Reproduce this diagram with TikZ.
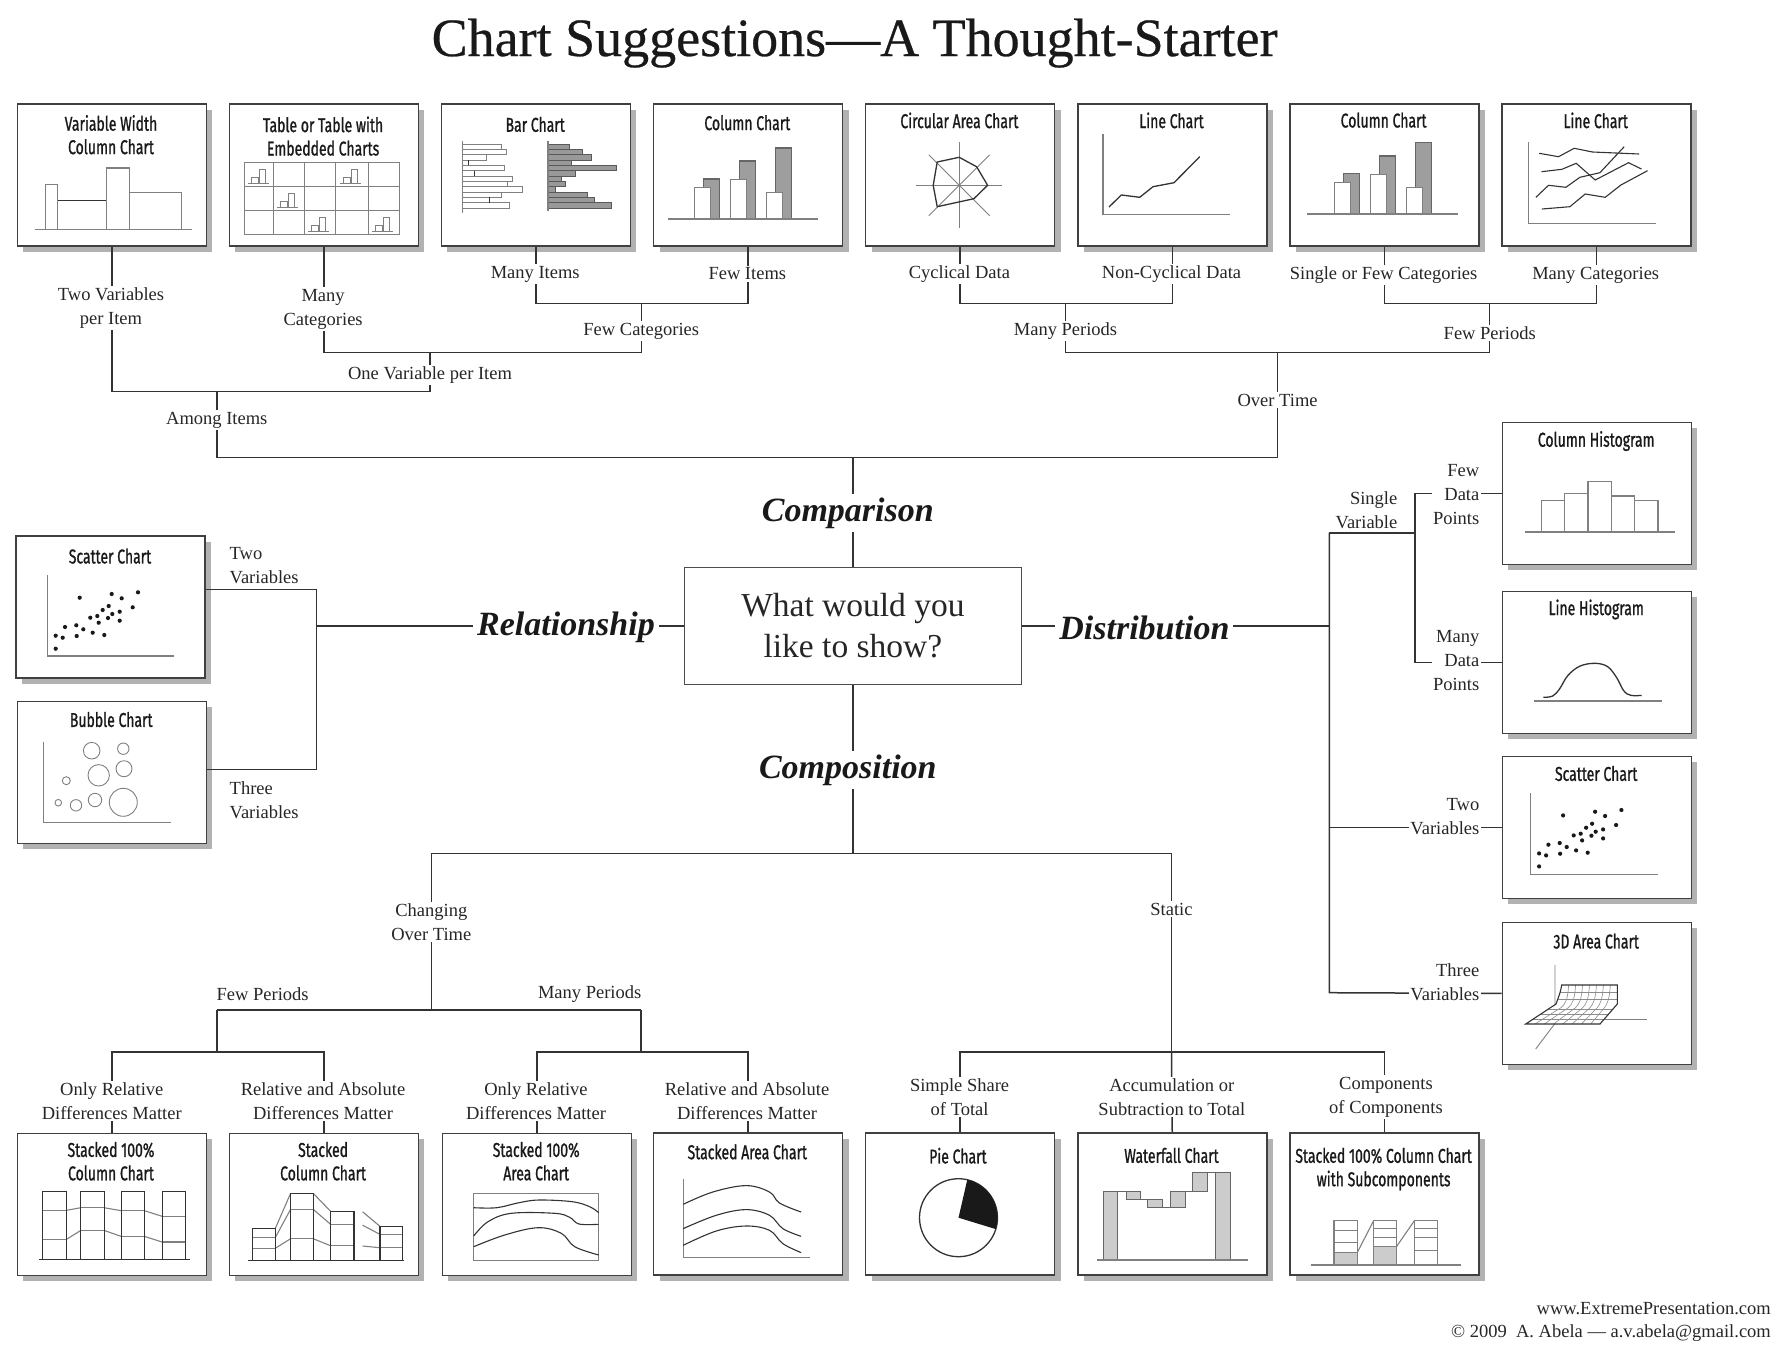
\documentclass[tikz,border=0pt]{standalone}
\usepackage{fontspec}
\setmainfont{Liberation Serif}
\newfontfamily\boxfont[FakeStretch=0.7,FakeBold=1.0]{Fira Sans}
\newfontfamily\titlefont[FakeBold=0.5]{Liberation Serif}
\usetikzlibrary{shadows}
\newcommand\minichart[2]{%
  \draw[minig,line width=0.8pt] ({#1+4},{#2-3}) -- ({#1+25},{#2-3});
  \draw[minig,line width=0.8pt] ({#1+7.4},{#2-3}) rectangle ({#1+14},{#2-9.4});
  \draw[minig,line width=0.8pt] ({#1+15},{#2-3}) rectangle ({#1+21.4},{#2-17.4});}
\newcommand\myscatterdots{%
  \foreach \p in {(64.4,62.7),(96.4,59),(106.4,63.3),(122.7,57.3),(117.4,72.3),(93.4,71),(87.4,75),(82,81),(75,82.7),(97,79),(104.4,76.7),(92.7,83),(83.4,87.7),(104.4,85.7),(61,90.3),(49.7,92),(68,94.3),(77.4,97.7),(89,100),(61.4,101),(40.4,100.7),(47.4,102.7),(40.4,113.7)}
    \fill[black!90] \p circle[radius=2.1pt];}
\tikzset{
  chartbox/.style={draw=black!75, line width=1.5pt, fill=white, minimum width=189pt,
    minimum height=142pt, anchor=north west, inner sep=0pt,
    drop shadow={shadow xshift=6pt, shadow yshift=-6pt, fill=black!30, opacity=1}},
  btitle/.style={font=\boxfont\fontsize{20}{23.4}\selectfont, align=center, inner sep=0pt, anchor=north, text=black!90},
  lab/.style={font=\fontsize{18.5}{24}\selectfont, align=center, inner sep=1.5pt, text=black!85},
  labw/.style={lab, fill=white},
  big/.style={font=\fontsize{34}{38}\selectfont\bfseries\itshape, fill=white, inner sep=4pt, text=black!90},
  conn/.style={draw=black!80, line width=1.5pt},
  minig/.style={draw=black!50, line width=1.1pt},
  minid/.style={draw=black!80, line width=1.3pt},
  grayfill/.style={fill=black!38, draw=black!60, line width=1.1pt},
}
\begin{document}
\begin{tikzpicture}[x=1pt,y=-1pt]
\useasboundingbox (0,0) rectangle (1789,1350);

\node[font=\titlefont\fontsize{54}{60}\selectfont, anchor=base, text=black!90] (title) at (854.6,56) {Chart Suggestions—A Thought-Starter};

% ---------- boxes ----------
\node[chartbox] (b1) at (16.5,103.3) {};
\node[chartbox] (b2) at (228.6,103.3) {};
\node[chartbox] (b3) at (440.7,103.3) {};
\node[chartbox] (b4) at (652.8,103.3) {};
\node[chartbox] (b5) at (864.9,103.3) {};
\node[chartbox] (b6) at (1077,103.3) {};
\node[chartbox] (b7) at (1289.1,103.3) {};
\node[chartbox] (b8) at (1501.2,103.3) {};
\node[chartbox] (r1) at (1501.7,421.7) {};
\node[chartbox] (r2) at (1501.7,590.7) {};
\node[chartbox] (r3) at (1501.7,755.7) {};
\node[chartbox] (r4) at (1501.7,921.7) {};
\node[chartbox] (s1) at (15.3,535) {};
\node[chartbox] (s2) at (16.7,700.7) {};
\node[chartbox] (bb1) at (16.5,1132.7) {};
\node[chartbox] (bb2) at (228.6,1132.7) {};
\node[chartbox] (bb3) at (441.7,1132.7) {};
\node[chartbox] (bb4) at (652.8,1132) {};
\node[chartbox] (bb5) at (864.9,1132) {};
\node[chartbox] (bb6) at (1077,1132) {};
\node[chartbox] (bb7) at (1289.1,1132) {};

\node[draw=black!70, line width=1.3pt, minimum width=336.6pt, minimum height=117.5pt, align=center,
  font=\fontsize{33.5}{41}\selectfont, text=black!85] (q) at (852.9,625.9) {What would you\\like to show?};

% ---------- b1 variable width ----------
\begin{scope}[shift={(b1.north west)}]
\node[btitle] (b1t) at (94.5,11.6) {Variable Width\\Column Chart};
\draw[minig] (28.7,126) rectangle (41,81);
\draw[minig] (41,126) rectangle (90.4,97.4);
\draw[minid,line width=1.1pt] (41,97.4) -- (90.4,97.4);
\draw[minig] (90.4,126) rectangle (113,64.7);
\draw[minig] (113,126) rectangle (164.7,89.4);
\draw[minig] (18.7,126) -- (175.4,126);
\end{scope}

% ---------- b2 table ----------
\begin{scope}[shift={(b2.north west)}]
\node[btitle] (b2t) at (94.5,13) {Table or Table with\\Embedded Charts};
\draw[minig] (15.6,59.4) rectangle (170.6,131);
\foreach \x in {44.6,75.6,107.3,139.6} \draw[minig] (\x,59.4) -- (\x,131);
\foreach \y in {83.4,107.4} \draw[minig] (15.6,\y) -- (170.6,\y);
\minichart{15.6}{83.4}
\minichart{107.3}{83.4}
\minichart{44.6}{107.4}
\minichart{75.6}{131}
\minichart{139.6}{131}
\end{scope}

% ---------- b3 bar chart ----------
\begin{scope}[shift={(b3.north west)}]
\node[btitle] (b3t) at (94.5,13.3) {Bar Chart};
\foreach \k/\e in {0/60.6,1/65.3,2/46,3/27.6,4/63.6,5/33.6,6/71.6,7/66.3,8/81.6,9/60.6,10/49,11/69}
  \draw[minig,line width=0.9pt] (21.6,{40.7+5.33*\k}) rectangle (\e,{46.03+5.33*\k});
\foreach \k/\e in {3/27.6,5/33.6,10/49}
  \draw[minid,line width=1pt] (\e,{40.7+5.33*\k}) -- (\e,{46.03+5.33*\k});
\draw[minig] (21.6,37.4) -- (21.6,109.4);
\foreach \k/\e in {0/129,1/141.3,2/151,3/130.6,4/175.6,5/134.3,6/120.6,7/124.3,8/114.6,9/146.3,10/153.6,11/171}
  \draw[fill=black!40,draw=black!65,line width=0.9pt] (107.3,{40.7+5.33*\k}) rectangle (\e,{46.03+5.33*\k});
\draw[minig] (107.3,37.4) -- (107.3,107.4);
\end{scope}

% ---------- b4 column chart ----------
\begin{scope}[shift={(b4.north west)}]
\node[btitle] (b4t) at (94.5,11.6) {Column Chart};
\draw[grayfill] (50.6,115.7) rectangle (66.6,75.7);
\draw[minig,fill=white] (41.6,115.7) rectangle (57.3,84.4);
\draw[grayfill] (86.3,115.7) rectangle (102.3,57.7);
\draw[minig,fill=white] (78,115.7) rectangle (93.6,76.4);
\draw[grayfill] (122.6,115.7) rectangle (138.6,44.7);
\draw[minig,fill=white] (114,115.7) rectangle (129.6,89);
\draw[minig] (15,115.7) -- (165,115.7);
\end{scope}

% ---------- b5 circular area ----------
\begin{scope}[shift={(b5.north west)}]
\node[btitle] (b5t) at (94.5,9) {Circular Area Chart};
\draw[minig,line width=0.9pt] (94.3,39) -- (94.3,125);
\draw[minig,line width=0.9pt] (51.3,82) -- (137.3,82);
\draw[minig,line width=0.9pt] (63.9,51.6) -- (124.7,112.4);
\draw[minig,line width=0.9pt] (63.9,112.4) -- (124.7,51.6);
\draw[minid] (94.3,54) -- (111.7,63.4) -- (122.7,82) -- (109,95.4) -- (72.3,103.4) -- (68.3,82) -- (72.3,58.7) -- cycle;
\end{scope}

% ---------- b6 line chart ----------
\begin{scope}[shift={(b6.north west)}]
\node[btitle] (b6t) at (94.5,9) {Line Chart};
\draw[minig] (26,31) -- (26,111) -- (152.7,111);
\draw[minid] (32,103.7) -- (44.3,91.7) -- (62.7,94) -- (76,83.4) -- (97,79.4) -- (122.7,53.4);
\end{scope}

% ---------- b7 column chart ----------
\begin{scope}[shift={(b7.north west)}]
\node[btitle] (b7t) at (94.5,9) {Column Chart};
\draw[grayfill] (54.3,110.7) rectangle (70.7,70.4);
\draw[minig,fill=white] (45.3,110.7) rectangle (61.3,79);
\draw[grayfill] (90,110.7) rectangle (106.7,52.7);
\draw[minig,fill=white] (81.7,110.7) rectangle (97.7,71);
\draw[grayfill] (126.7,110.7) rectangle (142.7,39.4);
\draw[minig,fill=white] (117.7,110.7) rectangle (133.7,84);
\draw[minig] (18.3,110.7) -- (169.3,110.7);
\end{scope}

% ---------- b8 line chart ----------
\begin{scope}[shift={(b8.north west)}]
\node[btitle] (b8t) at (94.5,9) {Line Chart};
\draw[minig] (27.3,39) -- (27.3,120) -- (154.7,120);
\draw[minid,line width=1.1pt] (38,50) -- (57.3,53.4) -- (73,45) -- (91.3,48.7) -- (138,50.7);
\draw[minid,line width=1.1pt] (40.3,68.4) -- (60.7,66) -- (75,60) -- (94,76.7) -- (127.3,59.4) -- (140.3,65.7);
\draw[minid,line width=1.1pt] (34.7,94) -- (47.3,82) -- (64.7,84) -- (78.7,74) -- (98.7,69.4) -- (123,43.4);
\draw[minid,line width=1.1pt] (40.7,105.7) -- (68.7,103.4) -- (84,90.7) -- (104,94) -- (119.7,81.7) -- (146.3,67.4);
\end{scope}

% ---------- r1 column histogram ----------
\begin{scope}[shift={(r1.north west)}]
\node[btitle] (r1t) at (94.5,9.2) {Column Histogram};
\draw[minig] (39.6,110.3) rectangle (63,78.6);
\draw[minig] (63,110.3) rectangle (86.3,71.6);
\draw[minig] (86.3,110.3) rectangle (109.6,59.6);
\draw[minig] (109.6,110.3) rectangle (133,74.3);
\draw[minig] (133,110.3) rectangle (156.3,78.6);
\draw[minig] (23,110.3) -- (173.6,110.3);
\end{scope}

% ---------- r2 line histogram ----------
\begin{scope}[shift={(r2.north west)}]
\node[btitle] (r2t) at (94.5,8.6) {Line Histogram};
\draw[minig] (32.3,110.3) -- (160.3,110.3);
\draw[minid] plot[smooth,tension=0.6] coordinates {(41.6,106.6) (51,105.3) (58,98) (66,85) (78,75.5) (93.3,72.6) (106,76) (115,87) (122,100) (129,104.6) (140,104.7)};
\end{scope}

% ---------- r3 scatter ----------
\begin{scope}[shift={(r3.north west)}]
\node[btitle] (r3t) at (94.5,10) {Scatter Chart};
\draw[minig] (29,37.6) -- (29,118.7) -- (156,118.7);
\begin{scope}[shift={(-3,-3)}]\myscatterdots\end{scope}
\end{scope}

% ---------- r4 3D area ----------
\begin{scope}[shift={(r4.north west)}]
\node[btitle] (r4t) at (94.5,11.6) {3D Area Chart};
\draw[minig,line width=0.9pt] (53.3,43.3) -- (53.3,101.7) -- (34,127.3);
\draw[minig,line width=0.9pt] (53.3,97.7) -- (145,97.7);
\fill[white] (24,102.3) -- (54.3,82.3) .. controls (57,75) and (59,70) .. (60,63.3) -- (115.6,63.3) -- (115.6,82.3) -- (98.3,102.3) -- cycle;
\foreach \t in {0.125,0.25,0.375,0.5,0.625,0.75,0.875}
  \draw[black!45,line width=0.6pt] ({60+55.6*\t},63.3) .. controls ({59+55.6*\t},78) and ({57+55.6*\t},82) .. ({52+58*\t},86) -- ({24+74.3*\t},102.3);
\foreach \s in {0.25,0.5,0.75}
  \draw[black!45,line width=0.6pt] ({54.3-30.3*\s},{82.3+20*\s}) -- ({115.6-17.3*\s},{82.3+20*\s});
\draw[black!45,line width=0.6pt] (56,78) -- (115.6,78);
\draw[black!45,line width=0.6pt] (58.5,71) -- (115.6,71);
\draw[minid,line width=1.1pt] (24,102.3) -- (54.3,82.3) .. controls (57,75) and (59,70) .. (60,63.3) -- (115.6,63.3) -- (115.6,82.3) -- (98.3,102.3) -- cycle;
\end{scope}

% ---------- s1 scatter ----------
\begin{scope}[shift={(s1.north west)}]
\node[btitle] (s1t) at (94.7,13.3) {Scatter Chart};
\draw[minig] (32.4,40) -- (32.4,121) -- (159,121);
\myscatterdots
\end{scope}

% ---------- s2 bubble ----------
\begin{scope}[shift={(s2.north west)}]
\node[btitle] (s2t) at (94.5,11) {Bubble Chart};
\draw[minig] (26.6,41) -- (26.6,122) -- (154,122);
\foreach \c/\r in {{(75,50)}/8.3,{(106.6,48)}/5.7,{(82,74.6)}/10.7,{(107.3,68)}/8,{(49.6,80)}/4,{(41.6,102)}/3.3,{(59.3,104.6)}/5.7,{(78.3,99.3)}/6.7,{(106.6,101.6)}/14}
  \draw[minig,line width=0.9pt] \c circle[radius=\r pt];
\end{scope}

% ---------- bb1 stacked 100% column ----------
\begin{scope}[shift={(bb1.north west)}]
\node[btitle] (bb1t) at (94.5,9) {Stacked 100\%\\Column Chart};
\draw[minig] (50,77.6) -- (64.3,75) (87.6,75) -- (104.7,78) (128,78) -- (145.6,83.6);
\draw[minig] (50,106.6) -- (64.3,97.7) (87.6,97.7) -- (104.7,103.7) (128,103.7) -- (145.6,109.3);
\draw[minig] (26,77.6) -- (50,77.6) (26,106.6) -- (50,106.6);
\draw[minig] (64.3,75) -- (87.6,75) (64.3,97.7) -- (87.6,97.7);
\draw[minig] (104.7,78) -- (128,78) (104.7,103.7) -- (128,103.7);
\draw[minig] (145.6,83.6) -- (169,83.6) (145.6,109.3) -- (169,109.3);
\foreach \a/\b in {26/50,64.3/87.6,104.7/128,145.6/169}
  \draw[minid,line width=1.2pt] (\a,126.7) rectangle (\b,59);
\draw[minid,line width=1.2pt] (22.6,126.7) -- (173.3,126.7);
\end{scope}

% ---------- bb2 stacked column ----------
\begin{scope}[shift={(bb2.north west)}]
\node[btitle] (bb2t) at (94.5,9) {Stacked\\Column Chart};
\draw[minig] (46.6,96) -- (62,60.6) (46.6,105) -- (62,76.6) (46.6,115.6) -- (62,106);
\draw[minig] (84.6,60.6) -- (102,78.6) (84.6,76.6) -- (102,91.6) (84.6,106) -- (102,113);
\draw[minig] (134,79) -- (151.3,93.6) (134,92.5) -- (151.3,101.6) (134,113.3) -- (151.3,115);
\draw[minig] (23.6,105) -- (46.6,105) (23.6,115.6) -- (46.6,115.6);
\draw[minig] (62,76.6) -- (84.6,76.6) (62,106) -- (84.6,106);
\draw[minig] (102,91.6) -- (125.3,91.6) (102,113) -- (125.3,113);
\draw[minig] (151.3,101.6) -- (174,101.6) (151.3,115) -- (174,115);
\draw[minid,line width=1.2pt] (23.6,128) rectangle (46.6,96);
\draw[minid,line width=1.2pt] (62,128) rectangle (84.6,60.6);
\draw[minid,line width=1.2pt] (102,128) rectangle (125.3,78.6);
\draw[minid,line width=1.2pt] (151.3,128) rectangle (174,93.6);
\draw[minid,line width=1.2pt] (19.6,128) -- (175.6,128);
\end{scope}

% ---------- bb3 stacked 100% area ----------
\begin{scope}[shift={(bb3.north west)}]
\node[btitle] (bb3t) at (94.5,9) {Stacked 100\%\\Area Chart};
\draw[minig] (32,60.6) rectangle (157,128);
\draw[minid,line width=1.1pt] plot[smooth,tension=0.6] coordinates {(32,75) (55,75) (77.3,70) (97.3,67.3) (130.6,69) (148,74) (157,80)};
\draw[minid,line width=1.1pt] plot[smooth,tension=0.6] coordinates {(32,103.3) (46.3,89) (69.6,80.6) (113,80.6) (128,84.6) (137.3,91.3) (157,91.6)};
\draw[minid,line width=1.1pt] plot[smooth,tension=0.6] coordinates {(32,114) (63,102.3) (96.3,95) (119.6,100.6) (133,114) (157,122.3)};
\end{scope}

% ---------- bb4 stacked area ----------
\begin{scope}[shift={(bb4.north west)}]
\node[btitle] (bb4t) at (94.5,12) {Stacked Area Chart};
\draw[minig] (30.4,46.6) -- (30.4,125.6) -- (157.4,125.6);
\draw[minid,line width=1.1pt] plot[smooth,tension=0.6] coordinates {(30.4,72.3) (60,60) (93.4,53.6) (116.7,60) (126.7,71) (148.3,80)};
\draw[minid,line width=1.1pt] plot[smooth,tension=0.6] coordinates {(30.4,96.6) (63.4,83.3) (93.4,77.6) (116.7,83.3) (130,96.6) (148.3,104.3)};
\draw[minid,line width=1.1pt] plot[smooth,tension=0.6] coordinates {(30.4,113.3) (63.4,99) (93.4,94) (116.7,98.3) (130,111.6) (148.3,120.6)};
\end{scope}

% ---------- bb5 pie ----------
\begin{scope}[shift={(bb5.north west)}]
\node[btitle] (bb5t) at (93,15.6) {Pie Chart};
\draw[minid] (93.6,85.7) circle[radius=39pt];
\fill[black!90] (93.6,85.7) -- ++(-17:39pt) arc[start angle=-17, end angle=77, radius=39pt] -- cycle;
\end{scope}

% ---------- bb6 waterfall ----------
\begin{scope}[shift={(bb6.north west)}]
\node[btitle] (bb6t) at (94.5,15.6) {Waterfall Chart};
\draw[fill=black!20,draw=black!60,line width=1pt] (26.2,128) rectangle (40.9,59.3);
\draw[fill=black!20,draw=black!60,line width=1pt] (49,59.3) rectangle (63.7,67);
\draw[fill=black!20,draw=black!60,line width=1pt] (70.2,67) rectangle (85.8,75.3);
\draw[fill=black!20,draw=black!60,line width=1pt] (93.1,59.3) rectangle (108.2,75.3);
\draw[fill=black!20,draw=black!60,line width=1pt] (115.5,40) rectangle (130.7,59.3);
\draw[fill=black!20,draw=black!60,line width=1pt] (138,128) rectangle (153.1,40);
\draw[draw=black!60,line width=1pt] (40.9,59.3) -- (49,59.3) (63.7,67) -- (70.2,67) (85.8,75.3) -- (93.1,75.3) (108.2,59.3) -- (115.5,59.3) (130.7,40) -- (138,40);
\draw[minig] (20.4,128) -- (170.7,128);
\end{scope}

% ---------- bb7 stacked with subcomponents ----------
\begin{scope}[shift={(bb7.north west)}]
\node[btitle] (bb7t) at (94.5,15.6) {Stacked 100\% Column Chart\\with Subcomponents};
\fill[black!20] (44.9,133) rectangle (68.1,120.7);
\fill[black!20] (84.5,133) rectangle (107.3,114.7);
\draw[minig] (44.9,133) rectangle (68.1,88.7);
\foreach \y in {98.7,110.7,120.7} \draw[minig] (44.9,\y) -- (68.1,\y);
\draw[minig] (84.5,133) rectangle (107.3,88.7);
\foreach \y in {96.3,105.3,114.7} \draw[minig] (84.5,\y) -- (107.3,\y);
\draw[minig] (125.3,133) rectangle (148.5,88.7);
\foreach \y in {96.3,105.3,118.7} \draw[minig] (125.3,\y) -- (148.5,\y);
\draw[minig] (68.1,120.7) -- (84.5,88.7);
\draw[minig] (107.3,114.7) -- (125.3,88.7);
\draw[minig] (21.6,133) -- (171.4,133);
\end{scope}

% ---------- connectors: comparison ----------
\coordinate (jOVt) at (430,352.6);
\coordinate (jOVb) at (430,391.4);
\coordinate (jFCt) at (641.25,303.5);
\coordinate (jFCb) at (641.25,352.6);
\coordinate (jAIt) at (216.8,391.4);
\coordinate (jAIb) at (216.8,457.5);
\coordinate (jMPt) at (1065.5,303.5);
\coordinate (jMPb) at (1065.5,352.6);
\coordinate (jFPt) at (1489.7,303.5);
\coordinate (jFPb) at (1489.7,352.6);
\coordinate (jOTt) at (1277.6,352.6);
\coordinate (jOTb) at (1277.6,457.5);
\draw[conn] (b1.south) |- (jOVb) -- (jOVt);
\draw[conn] (b2.south) |- (jFCb) -- (jFCt);
\draw[conn] (b3.south) |- (jFCt) -| (b4.south);
\draw[conn] (jAIt) -- (jAIb) -- (jOTb) -- (jOTt);
\draw[conn] (b5.south) |- (jMPt) -| (b6.south);
\draw[conn] (jMPt) -- (jMPb) -- (jFPb) -- (jFPt);
\draw[conn] (b7.south) |- (jFPt) -| (b8.south);
\draw[conn] (q.north) -- (q.north |- jAIb);

% ---------- connectors: relationship ----------
\coordinate (jR1) at (316.7,589.3);
\coordinate (jR2) at (316.7,769.3);
\coordinate (jRm) at (316.7,625.9);
\draw[conn] (s1.east |- jR1) -- (jR1) -- (jR2) -- (s2.east |- jR2);
\draw[conn] (jRm) -- (q.west);

% ---------- connectors: distribution ----------
\coordinate (jD0) at (1329.3,625.9);
\coordinate (jD1) at (1329.3,532.8);
\coordinate (jD2) at (1414.8,532.8);
\coordinate (jD4) at (1329.3,992.7);
\draw[conn] (q.east) -- (jD0);
\draw[conn] (jD1) -- (jD4) -- (r4.west);
\draw[conn] (jD1) -- (jD2);
\draw[conn] (r1.west) -| (jD2) |- (r2.west);
\draw[conn] (r3.west -| jD1) -- (r3.west);

% ---------- connectors: composition ----------
\coordinate (jCOT) at (431.3,853.5);
\coordinate (jST) at (1171.5,853.5);
\coordinate (jCOTb) at (431.3,1009.8);
\coordinate (jFL) at (216.8,1009.8);
\coordinate (jML) at (641.2,1009.8);
\coordinate (jFLb) at (216.8,1052);
\coordinate (jMLb) at (641.2,1052);
\coordinate (jSTb) at (1171.5,1052);
\draw[conn] (q.south) -- (q.south |- jCOT);
\draw[conn] (jCOT) -- (jST);
\draw[conn] (jCOT) -- (jCOTb);
\draw[conn] (jFL) -- (jML);
\draw[conn] (jFL) -- (jFLb);
\draw[conn] (bb1.north) |- (jFLb) -| (bb2.north);
\draw[conn] (jML) -- (jMLb);
\draw[conn] (bb3.north) |- (jMLb) -| (bb4.north);
\draw[conn] (jST) -- (jSTb);
\draw[conn] (bb5.north) |- (jSTb) -| (bb7.north);
\draw[conn] (jSTb) -- (bb6.north);

% ---------- labels ----------
\node[labw] (l1) at (111,308) {Two Variables\\per Item};
\node[labw] (l2) at (323.1,309) {Many\\Categories};
\node[labw] (l3) at (535.2,274) {Many Items};
\node[labw] (l4) at (747.3,274) {Few Items};
\node[labw] (l5) at (641.25,331) {Few Categories};
\node[labw] (l6) at (430,375) {One Variable per Item};
\node[labw] (l7) at (216.8,420) {Among Items};
\node[labw] (l8) at (959.4,274) {Cyclical Data};
\node[labw] (l9) at (1171.5,274) {Non-Cyclical Data};
\node[labw] (l10) at (1065.5,331) {Many Periods};
\node[labw] (l11) at (1383.6,275) {Single or Few Categories};
\node[labw] (l12) at (1595.7,275) {Many Categories};
\node[labw] (l13) at (1489.7,333) {Few Periods};
\node[labw] (l14) at (1277.6,400) {Over Time};

\node[big] (cmp) at (847.8,513) {Comparison};
\node[big] (rel) at (566,627.5) {Relationship};
\node[big] (dis) at (1144.4,627.5) {Distribution};
\node[big] (cps) at (847.8,770) {Composition};

\node[lab, anchor=west, align=left] (l15) at (228,566) {Two\\Variables};
\node[lab, anchor=west, align=left] (l16) at (228,800) {Three\\Variables};

\node[lab, anchor=east, align=right] (l17) at (1399,510) {Single\\Variable};
\node[labw, anchor=east, align=right] (l18) at (1481,494.4) {Few\\Data\\Points};
\node[labw, anchor=east, align=right] (l19) at (1481,661) {Many\\Data\\Points};
\node[labw, anchor=east, align=right] (l20) at (1481,816.5) {Two\\Variables};
\node[labw, anchor=east, align=right] (l21) at (1481,982) {Three\\Variables};

\node[labw] (l22) at (431.3,921.7) {Changing\\Over Time};
\node[labw] (l23) at (1171.5,909) {Static};
\node[lab, anchor=west] (l24) at (215,994) {Few Periods};
\node[lab, anchor=east] (l25) at (643,994) {Many Periods};
\node[labw] (l26) at (111.8,1101) {Only Relative\\Differences Matter};
\node[labw] (l27) at (323,1101) {Relative and Absolute\\Differences Matter};
\node[labw] (l28) at (536,1101) {Only Relative\\Differences Matter};
\node[labw] (l29) at (747,1101) {Relative and Absolute\\Differences Matter};
\node[labw] (l30) at (959.6,1097) {Simple Share\\of Total};
\node[labw] (l31) at (1171.8,1097) {Accumulation or\\Subtraction to Total};
\node[labw] (l32) at (1386,1097) {Components\\of Components};

\node[font=\fontsize{18.5}{22}\selectfont, anchor=base east, inner sep=0pt, text=black!85] (web) at (1771,1314) {www.ExtremePresentation.com};
\node[font=\fontsize{18.5}{22}\selectfont, anchor=base east, inner sep=0pt, text=black!85] (cr) at (1771,1337) {© 2009\ \ A. Abela — a.v.abela@gmail.com};
\end{tikzpicture}
\end{document}
